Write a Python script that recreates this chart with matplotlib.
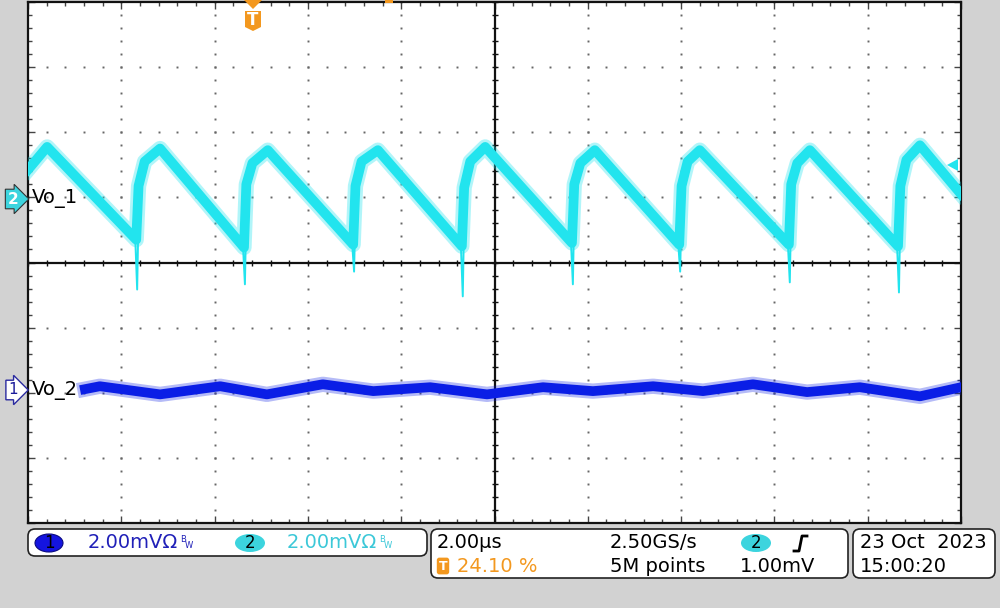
import matplotlib.pyplot as plt
from matplotlib.patches import FancyBboxPatch, Ellipse, Polygon, Rectangle
from matplotlib.lines import Line2D

# screen: 10 div x 2.00us, 8 div x 2.00mV (values as displayed, incl. channel offset)
x_range_us = (0.0, 20.0)
y_range_mv = (-8.0, 8.0)

# Vo_1 (ch2, cyan) - sawtooth read per cycle
vo1_start = (0.0, 2.85)
vo1_end = (20.0, 2.10)
vo1_drop_t = [2.34, 4.65, 6.99, 9.32, 11.68, 13.98, 16.33, 18.67]
vo1_low_v = [0.70, 0.46, 0.55, 0.50, 0.60, 0.55, 0.55, 0.50]
vo1_spike_v = [-0.83, -0.67, -0.28, -1.04, -0.67, -0.28, -0.61, -0.92]
vo1_jump_v = [2.35, 2.40, 2.35, 2.30, 2.40, 2.35, 2.40, 2.35]
vo1_knee_v = [3.10, 3.05, 3.10, 3.10, 3.05, 3.10, 3.05, 3.15]
vo1_peak_t = [0.41, 2.83, 5.14, 7.50, 9.80, 12.15, 14.40, 16.76, 19.12]
vo1_peak_v = [3.55, 3.50, 3.45, 3.45, 3.55, 3.45, 3.45, 3.45, 3.60]

# Vo_2 (ch1, blue) - small ripple
vo2_t = [1.22, 1.54, 2.83, 4.12, 5.12, 6.32, 7.40, 8.62, 9.84, 11.04,
         12.11, 13.40, 14.47, 15.54, 16.70, 17.83, 19.12, 20.0]
vo2_v = [-3.89, -3.80, -4.05, -3.80, -4.05, -3.74, -3.95, -3.83, -4.05, -3.83,
         -3.95, -3.80, -3.95, -3.74, -3.98, -3.83, -4.11, -3.83]

cyan = '#22e4ee'
blue = '#0a1ee6'
orange = '#f3981f'
grey_bg = '#d2d2d2'

fig = plt.figure(figsize=(10, 6.08), dpi=100, facecolor=grey_bg)
ax = fig.add_axes([0.028, 1 - 523 / 608, 0.933, 521 / 608])
ax.set_facecolor('white')
ax.set_xlim(*x_range_us)
ax.set_ylim(*y_range_mv)

# ticks on frame
ax.set_xticks([x * 2.0 for x in range(11)])
ax.set_yticks([y * 2.0 - 8 for y in range(9)])
ax.set_xticks([x * 0.4 for x in range(51)], minor=True)
ax.set_yticks([y * 0.4 - 8 for y in range(41)], minor=True)
ax.tick_params(which='both', direction='in', top=True, right=True, color='#444444',
               labelleft=False, labelbottom=False, width=1)
ax.tick_params(which='major', length=5)
ax.tick_params(which='minor', length=3)
for s in ax.spines.values():
    s.set_linewidth(1.6)
    s.set_color('#111111')

# dotted graticule
dot_x, dot_y = [], []
for gx in [2, 4, 6, 8, 12, 14, 16, 18]:
    for k in range(41):
        dot_x.append(gx)
        dot_y.append(k * 0.4 - 8)
for gy in [-6, -4, -2, 2, 4, 6]:
    for k in range(51):
        dot_x.append(k * 0.4)
        dot_y.append(gy)
ax.plot(dot_x, dot_y, ls='none', marker='s', ms=1.4, color='#666666', mew=0, zorder=1)

# center lines with ticks
ax.axhline(0, color='#111111', lw=1.6, zorder=2)
ax.axvline(10, color='#111111', lw=1.6, zorder=2)
ax.plot([k * 0.4 for k in range(51)], [0] * 51, ls='none', marker='|', ms=5,
        color='#111111', mew=1, zorder=2)
ax.plot([10] * 41, [k * 0.4 - 8 for k in range(41)], ls='none', marker='_', ms=5,
        color='#111111', mew=1, zorder=2)

# Vo_1 trace
t1 = [vo1_start[0], vo1_peak_t[0]]
v1 = [vo1_start[1], vo1_peak_v[0]]
for i, td in enumerate(vo1_drop_t):
    t1 += [td - 0.02, td + 0.03, td + 0.16, vo1_peak_t[i + 1]]
    v1 += [vo1_low_v[i], vo1_jump_v[i], vo1_knee_v[i], vo1_peak_v[i + 1]]
t1.append(vo1_end[0])
v1.append(vo1_end[1])
ax.plot(t1, v1, color=cyan, lw=11, alpha=0.35, solid_joinstyle='round', zorder=3)
ax.plot(t1, v1, color=cyan, lw=7, solid_joinstyle='round', zorder=3)
for i, td in enumerate(vo1_drop_t):
    ax.plot([td - 0.04, td, td + 0.04], [vo1_low_v[i], vo1_spike_v[i], vo1_jump_v[i]],
            color=cyan, lw=1.4, zorder=3)

# Vo_2 trace
ax.plot(vo2_t, vo2_v, color=blue, lw=11, alpha=0.3, solid_joinstyle='round', zorder=3)
ax.plot(vo2_t, vo2_v, color=blue, lw=7, solid_joinstyle='round', zorder=3)

# overlay in pixel coordinates
ov = fig.add_axes([0, 0, 1, 1], zorder=5)
ov.set_xlim(0, 1000)
ov.set_ylim(608, 0)
ov.axis('off')
ov.patch.set_alpha(0)

# channel markers and labels
ov.text(13, 199, '2', color='white', fontsize=11, fontweight='bold', ha='center', va='center',
        bbox=dict(boxstyle='rarrow,pad=0.15', fc='#3cd4de', ec='#333333', lw=0.8))
ov.text(32, 199, 'Vo_1', fontsize=14, color='black', va='center')
ov.text(13, 390, '1', color='#1a1a9a', fontsize=11, ha='center', va='center',
        bbox=dict(boxstyle='rarrow,pad=0.15', fc='white', ec='#2a2aa0', lw=1))
ov.text(32, 390, 'Vo_2', fontsize=14, color='black', va='center')

# trigger position marker
ov.add_patch(Polygon([(244, 0), (262, 0), (253, 9)], closed=True, fc=orange, ec='none'))
ov.add_patch(Polygon([(245, 11), (261, 11), (261, 27), (253, 31), (245, 27)], closed=True,
                     fc=orange, ec='none'))
ov.text(253, 20, 'T', color='white', fontsize=12, fontweight='bold', ha='center', va='center')
ov.add_patch(Rectangle((385, 0), 8, 3, fc=orange, ec='none'))
# trigger level arrow
ov.add_patch(Polygon([(947, 165), (958, 159), (958, 171)], closed=True, fc=cyan, ec='none'))

# status boxes
for (x0, y0, x1, y1) in [(28, 529, 427, 556), (431, 529, 848, 578), (853, 529, 995, 578)]:
    ov.add_patch(FancyBboxPatch((x0, y0), x1 - x0, y1 - y0,
                                boxstyle='round,pad=0,rounding_size=7',
                                fc='white', ec='#222222', lw=1.2))

fs = 14
ov.add_patch(Ellipse((49, 543), 28, 18, fc='#1414e0', ec='#0a0a80', lw=0.8))
ov.text(49, 543, '1', fontsize=12, color='black', ha='center', va='center')
ov.text(88, 543, '2.00mVΩ', fontsize=fs, color='#2020b8', va='center')
ov.text(180, 539, 'B', fontsize=6, color='#2020b8', va='center')
ov.text(185, 546, 'W', fontsize=6, color='#2020b8', va='center')

ov.add_patch(Ellipse((250, 543), 30, 18, fc='#3cd4de', ec='none'))
ov.text(250, 543, '2', fontsize=12, color='black', ha='center', va='center')
ov.text(287, 543, '2.00mVΩ', fontsize=fs, color='#3cc8d8', va='center')
ov.text(379, 539, 'B', fontsize=6, color='#3cc8d8', va='center')
ov.text(384, 546, 'W', fontsize=6, color='#3cc8d8', va='center')

ov.text(437, 543, '2.00µs', fontsize=fs, color='black', va='center')
ov.text(610, 543, '2.50GS/s', fontsize=fs, color='black', va='center')
ov.add_patch(Ellipse((756, 543), 30, 18, fc='#3cd4de', ec='none'))
ov.text(756, 543, '2', fontsize=12, color='black', ha='center', va='center')
ov.add_line(Line2D([794, 799, 802, 807], [551, 551, 536, 536], color='black', lw=2))

ov.text(443, 566, 'T', fontsize=9, color='white', fontweight='bold', ha='center', va='center',
        bbox=dict(boxstyle='round,pad=0.15,rounding_size=0.2', fc=orange, ec='none'))
ov.text(457, 566, '24.10 %', fontsize=fs, color=orange, va='center')
ov.text(610, 566, '5M points', fontsize=fs, color='black', va='center')
ov.text(740, 566, '1.00mV', fontsize=fs, color='black', va='center')

ov.text(860, 543, '23 Oct  2023', fontsize=fs, color='black', va='center')
ov.text(860, 566, '15:00:20', fontsize=fs, color='black', va='center')

fig.savefig('out.png', dpi=100, facecolor=grey_bg)
